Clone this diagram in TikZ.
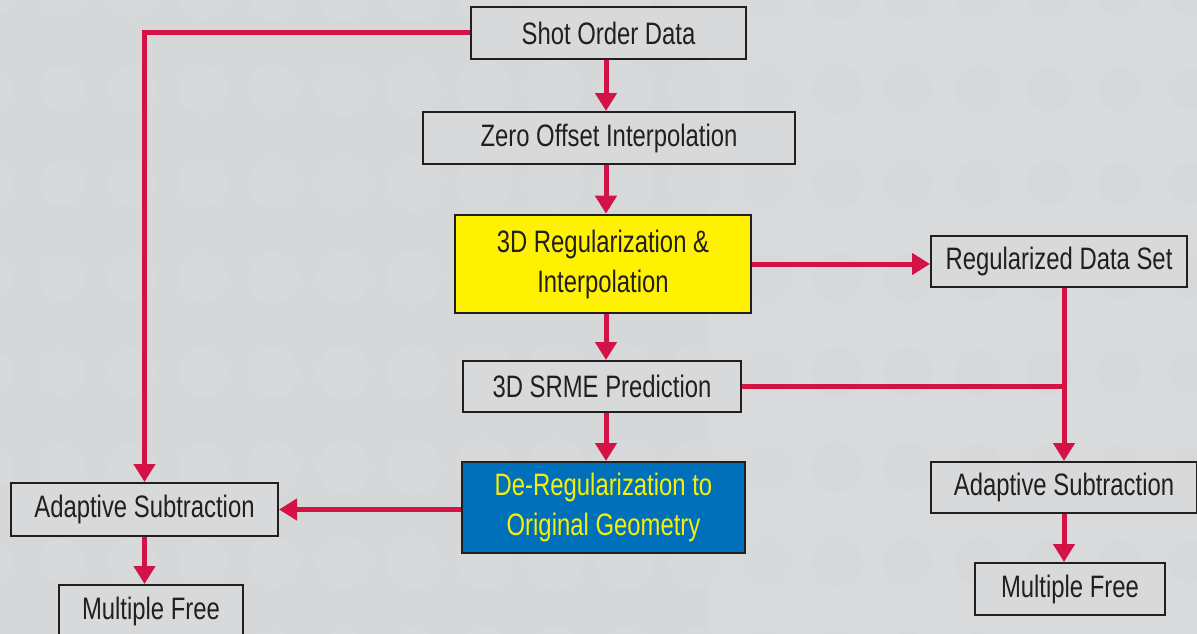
\documentclass[tikz,border=0pt]{standalone}
\usepackage{fontspec}
\setmainfont{Liberation Sans}[FakeStretch=0.77]
\usetikzlibrary{arrows.meta,calc}
\definecolor{bgL}{HTML}{D6D7D9}
\definecolor{bgR}{HTML}{D9DADC}
\definecolor{dotL}{HTML}{D8D9DB}
\definecolor{dotR}{HTML}{D7D8DA}
\definecolor{boxfill}{HTML}{D8D9DB}
\definecolor{edge}{HTML}{231F20}
\definecolor{crim}{HTML}{D31245}
\definecolor{ybox}{HTML}{FFF200}
\definecolor{bbox}{HTML}{0070BB}
\definecolor{ytext}{HTML}{F7F000}
\tikzset{
  box/.style={draw=edge, line width=2pt, fill=boxfill, inner sep=0pt, align=center,
    text=edge, font=\fontsize{31}{40}\selectfont},
  yellowbox/.style={box, fill=ybox, line width=2.6pt},
  bluebox/.style={box, fill=bbox, text=ytext},
  flow/.style={draw=crim, line width=5pt, -{Triangle[length=18pt,width=21pt]}},
  plain/.style={draw=crim, line width=5pt}
}
\begin{document}
\begin{tikzpicture}[x=1pt,y=-1pt]
\useasboundingbox (0,0) rectangle (1197,634);
\fill[bgL] (0,0) rectangle (708,634);
\fill[bgR] (708,0) rectangle (1197,634);
\foreach \r in {0,...,7}{
  \foreach \c in {0,...,17}{
    \pgfmathsetmacro{\cx}{-8.8+70.5*\c}
    \pgfmathsetmacro{\cy}{-5.5+94.5*\r}
    \pgfmathsetmacro{\rad}{29-abs(\cx-550)/75}
    \pgfmathtruncatemacro{\isleft}{\cx<790 ? 1 : 0}
    \ifnum\isleft=1
      \fill[dotL] (\cx,\cy) circle[radius=\rad];
    \else
      \fill[dotR] (\cx,\cy) circle[radius=\rad];
    \fi
  }
}
% nodes
\node[box, minimum width=275pt, minimum height=52pt] (sod) at (608.5,33) {Shot Order Data};
\node[box, minimum width=372pt, minimum height=52pt] (zoi) at (609,138) {Zero Offset Interpolation};
\node[yellowbox, minimum width=296pt, minimum height=98pt] (reg) at (603,264) {3D Regularization \&\\Interpolation};
\node[box, minimum width=256pt, minimum height=51pt] (rds) at (1059,261.5) {Regularized Data Set};
\node[box, minimum width=278pt, minimum height=51pt] (srme) at (602,386.5) {3D SRME Prediction};
\node[bluebox, minimum width=283pt, minimum height=91pt] (dereg) at (603.5,507.5) {De-Regularization to\\Original Geometry};
\node[box, minimum width=267pt, minimum height=53pt] (asl) at (144.5,509.5) {Adaptive Subtraction};
\node[box, minimum width=184pt, minimum height=52pt] (mfl) at (151,611) {Multiple Free};
\node[box, minimum width=266pt, minimum height=51pt] (asr) at (1064,487.5) {Adaptive Subtraction};
\node[box, minimum width=190pt, minimum height=52pt] (mfr) at (1070,589) {Multiple Free};
\coordinate (colC) at (606,0);
\coordinate (colR) at (1064,0);
% connectors
\draw[flow] (sod.south -| colC) -- (zoi.north -| colC);
\draw[flow] (zoi.south -| colC) -- (reg.north -| colC);
\draw[flow] (reg.south -| colC) -- (srme.north -| colC);
\draw[flow] (srme.south -| colC) -- (dereg.north -| colC);
\draw[flow] (sod.west) -| (asl.north);
\draw[flow] (reg.east) -- (reg.east -| rds.west);
\draw[flow] (rds.south -| colR) -- (asr.north -| colR);
\draw[plain] (srme.east) -- (srme.east -| colR);
\draw[flow] (dereg.west |- asl.east) -- (asl.east);
\draw[flow] (asl.south) -- (mfl.north -| asl.south);
\draw[flow] (asr.south) -- (mfr.north -| asr.south);
\end{tikzpicture}
\end{document}
